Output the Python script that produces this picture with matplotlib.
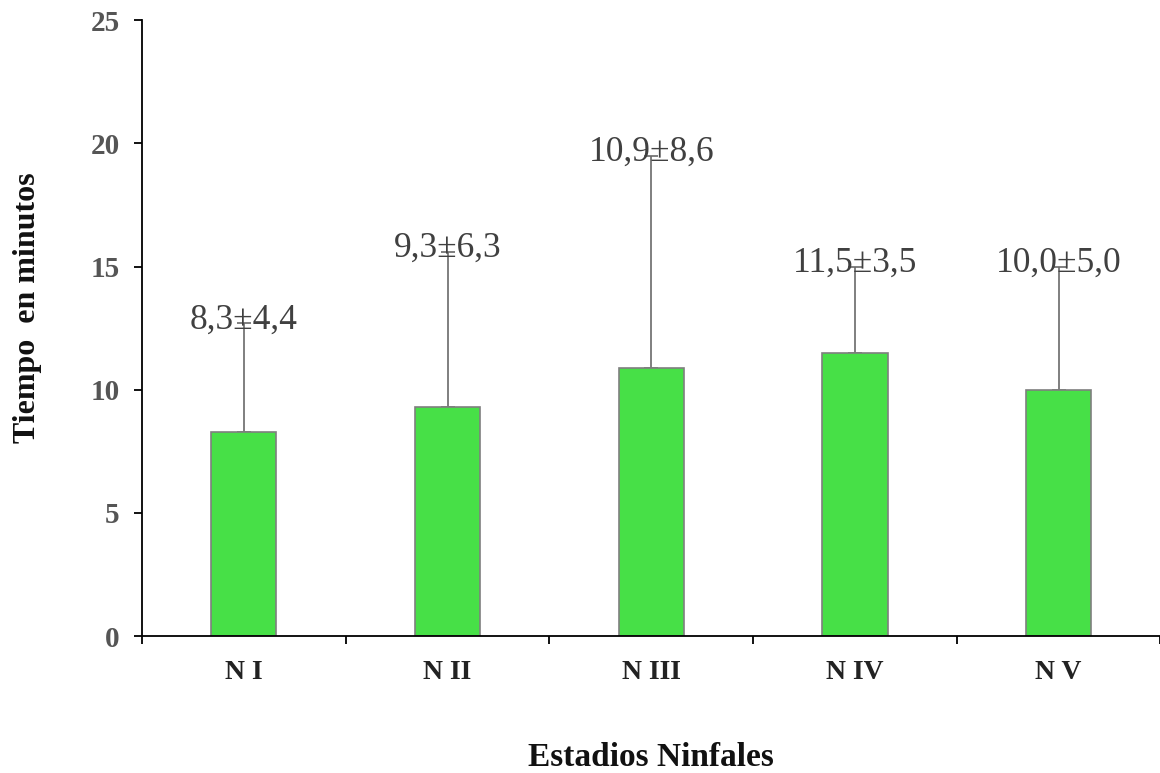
import numpy as np
import matplotlib.pyplot as plt

plt.rcParams.update({
    "font.family": "serif",
    "font.serif": ["Liberation Serif", "DejaVu Serif"],
})

estadios = ["N I", "N II", "N III", "N IV", "N V"]
medias = [8.3, 9.3, 10.9, 11.5, 10.0]
desvios = [4.4, 6.3, 8.6, 3.5, 5.0]
etiquetas = ["8,3±4,4", "9,3±6,3", "10,9±8,6", "11,5±3,5", "10,0±5,0"]

fig = plt.figure(figsize=(11.6, 7.73), dpi=100)
ax = fig.add_axes([0.1224, 0.177, 0.878, 0.797])

x = np.arange(len(estadios))
ax.bar(x, medias, width=0.32, color="#47E047", edgecolor="#7f7f7f", linewidth=1.2, zorder=2)
ax.errorbar(x, medias, yerr=[np.zeros(len(medias)), desvios], fmt="none",
            ecolor="#6a6a6a", elinewidth=1.2, capsize=5, capthick=1.2, zorder=1)

for xi, m, d, t in zip(x, medias, desvios, etiquetas):
    ax.text(xi, m + d + 0.13, t, ha="center", va="center", fontsize=25.5, color="#404040")

ax.set_xlim(-0.5, 4.5)
ax.set_ylim(0, 25)
ax.set_yticks(range(0, 26, 5))
ax.set_xticks(x)
ax.set_xticklabels(estadios, fontsize=20, fontweight="bold", color="#222222")
ax.set_xticks(np.arange(-0.5, 4.6, 1), minor=True)
ax.tick_params(axis="x", which="major", length=0, pad=17)
ax.tick_params(axis="x", which="minor", length=6, width=1.3, direction="out")
ax.tick_params(axis="y", length=6, width=1.3, direction="out", labelsize=21,
               labelcolor="#555555", pad=10)
for lab in ax.get_yticklabels():
    lab.set_fontweight("bold")

for s in ["top", "right"]:
    ax.spines[s].set_visible(False)
ax.spines["left"].set_linewidth(1.3)
ax.spines["bottom"].set_linewidth(1.3)

ax.set_xlabel("Estadios Ninfales", fontsize=24, fontweight="bold", color="#111111")
ax.set_ylabel("Tiempo  en minutos", fontsize=23, fontweight="bold", color="#111111")
ax.xaxis.set_label_coords(0.5, -0.172)
ax.yaxis.set_label_coords(-0.098, 0.533)

fig.savefig("out.png", dpi=100)
